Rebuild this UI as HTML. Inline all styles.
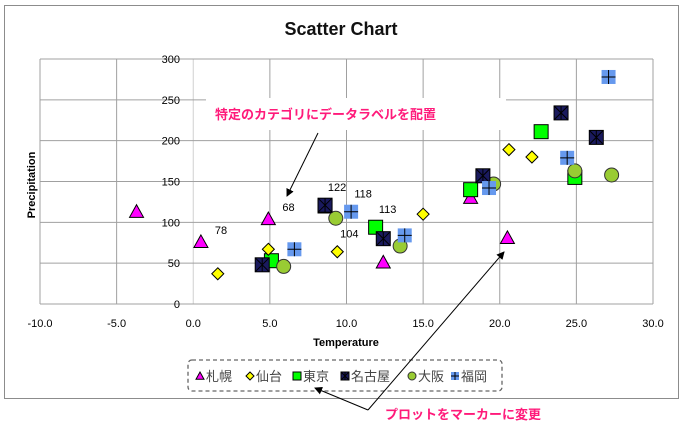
<!DOCTYPE html>
<html><head><meta charset="utf-8"><style>
body{margin:0;background:#fff;width:684px;height:437px;overflow:hidden}
text{font-family:"Liberation Sans","Noto Sans CJK JP",sans-serif}
</style></head><body>
<svg id="chart" width="684" height="437" xmlns="http://www.w3.org/2000/svg">
<rect x="4.5" y="5.5" width="674" height="393" fill="#fff" stroke="#8c8c8c"/>
<text x="341" y="35" text-anchor="middle" font-size="18" font-weight="bold" fill="#111">Scatter Chart</text>
<g id="grid"></g><g id="ticks"></g>
<rect x="206" y="98" width="300" height="32" fill="#fff"/>
<text x="215" y="119" font-size="13" font-weight="bold" fill="#ff1a7a">特定のカテゴリにデータラベルを配置</text>
<g id="marks"></g>
<text x="346" y="346" text-anchor="middle" font-size="11" font-weight="bold">Temperature</text>
<text transform="translate(35,185) rotate(-90)" text-anchor="middle" font-size="11" font-weight="bold">Precipitation</text>
<g>
<rect x="188" y="360" width="314" height="31" rx="4" fill="#fff" stroke="#666" stroke-dasharray="4,3" stroke-width="1.3"/>
<g id="legend"></g>
</g>
<defs><marker id="ah" markerWidth="8" markerHeight="8" refX="7" refY="4" orient="auto"><path d="M0,0 L8,4 L0,8 Z" fill="#000"/></marker></defs>
<line x1="318" y1="133" x2="287" y2="196" stroke="#000" marker-end="url(#ah)"/>
<line x1="368" y1="410" x2="504" y2="252" stroke="#000" marker-end="url(#ah)"/>
<line x1="368" y1="410" x2="315" y2="388" stroke="#000" marker-end="url(#ah)"/>
<text x="385" y="419" font-size="13" font-weight="bold" fill="#ff1a7a">プロットをマーカーに変更</text>
</svg>
<script>
const xTicks=[-10,-5,0,5,10,15,20,25,30];
const yTicks=[0,50,100,150,200,250,300];
const seriesNames=["札幌","仙台","東京","名古屋","大阪","福岡"];
const sapporoX=[-3.7,0.5,4.9,12.4,20.5,18.1];
const sapporoY=[113,76,104,51,81,130];
const sendaiX=[1.6,4.9,9.4,15.0,20.6,22.1];
const sendaiY=[37,67,64,110,189,180];
const tokyoX=[5.1,8.6,11.9,18.1,22.7,24.9];
const tokyoY=[53,120,94,140,211,155];
const nagoyaX=[4.5,8.6,12.4,18.9,24.0,26.3];
const nagoyaY=[48,121,80,157,234,204];
const osakaX=[5.9,9.3,13.5,19.6,24.9,27.3];
const osakaY=[46,105,71,147,163,158];
const fukuokaX=[6.6,10.3,13.8,19.3,24.4,27.1];
const fukuokaY=[67,113,84,142,179,278];
const labelTexts=["78","68","122","118","113","104"];
const labelSeries=[0,0,3,5,2,1];
const labelIndex=[1,2,1,1,2,2];
const X0=40,X1=653,Y0=304,Y1=59;
const sx=v=>X0+(v-(-10))/40*(X1-X0);
const sy=v=>Y0-(v/300)*(Y0-Y1);
const NS="http://www.w3.org/2000/svg";
function mk(tag,attrs,parent){const e=document.createElementNS(NS,tag);for(const k in attrs)e.setAttribute(k,attrs[k]);parent.appendChild(e);return e;}
const grid=document.getElementById('grid'),ticks=document.getElementById('ticks'),marks=document.getElementById('marks'),leg=document.getElementById('legend');
xTicks.forEach(t=>{const l=mk('line',{x1:sx(t),x2:sx(t),y1:Y1,y2:Y0,stroke:t===0?'#d0d0d0':'#a0a0a0'},grid);


const tx=mk('text',{x:sx(t),y:327,'text-anchor':'middle','font-size':11},ticks);tx.textContent=t.toFixed(1);

});
yTicks.forEach(t=>{const l=mk('line',{x1:X0,x2:X1,y1:sy(t),y2:sy(t),stroke:'#a0a0a0'},grid);


const tx=mk('text',{x:180,y:sy(t)+4,'text-anchor':'end','font-size':11},ticks);tx.textContent=t;

});
function marker(type,x,y,p,s){
 let g=mk('g',{},p);
 if(type===0){mk('polygon',{points:`${x},${y-s} ${x+s},${y+s*0.8} ${x-s},${y+s*0.8}`,fill:'#ff00ff',stroke:'#000','stroke-width':1},g);}
 else if(type===1){mk('polygon',{points:`${x},${y-s} ${x+s},${y} ${x},${y+s} ${x-s},${y}`,fill:'#ffff00',stroke:'#000','stroke-width':1},g);}
 else if(type===2){mk('rect',{x:x-s,y:y-s,width:2*s,height:2*s,fill:'#00ff00',stroke:'#000','stroke-width':1},g);}
 else if(type===3){mk('rect',{x:x-s,y:y-s,width:2*s,height:2*s,fill:'#1a1a5e',stroke:'#000','stroke-width':1},g);
  mk('path',{d:`M${x-s},${y-s}L${x+s},${y+s}M${x+s},${y-s}L${x-s},${y+s}M${x},${y-s}L${x},${y+s}`,stroke:'#000','stroke-width':1},g);}
 else if(type===4){mk('circle',{cx:x,cy:y,r:s,fill:'#99cc33',stroke:'#333','stroke-width':1},g);}
 else {mk('rect',{x:x-s,y:y-s,width:2*s,height:2*s,fill:'#6699ee'},g);
  mk('path',{d:`M${x-s},${y}L${x+s},${y}M${x},${y-s}L${x},${y+s}`,stroke:'#000','stroke-width':1},g);}
 return g;}
const allX=[sapporoX,sendaiX,tokyoX,nagoyaX,osakaX,fukuokaX],allY=[sapporoY,sendaiY,tokyoY,nagoyaY,osakaY,fukuokaY];
const sizes=[7,6,7,7,7,7];
[0,2,4,1,3,5].forEach(si=>{allX[si].forEach((v,i)=>{const g=marker(si,sx(v),sy(allY[si][i]),marks,sizes[si]);

});});
labelTexts.forEach((t,k)=>{const si=labelSeries[k],i=labelIndex[k];
const tx=mk('text',{x:sx(allX[si][i])+(si===0?14:12),y:sy(allY[si][i])-(si===0?8:14),'font-size':11,'text-anchor':si===0?'start':'middle'},marks);tx.textContent=t;

});
const legX=[200,250,297,345,412,455];
seriesNames.forEach((n,si)=>{const g=marker(si,legX[si],376,leg,4);


const tx=mk('text',{x:legX[si]+6,y:381,'font-size':13,fill:'#444'},leg);tx.textContent=n;

});
</script>
</body></html>
